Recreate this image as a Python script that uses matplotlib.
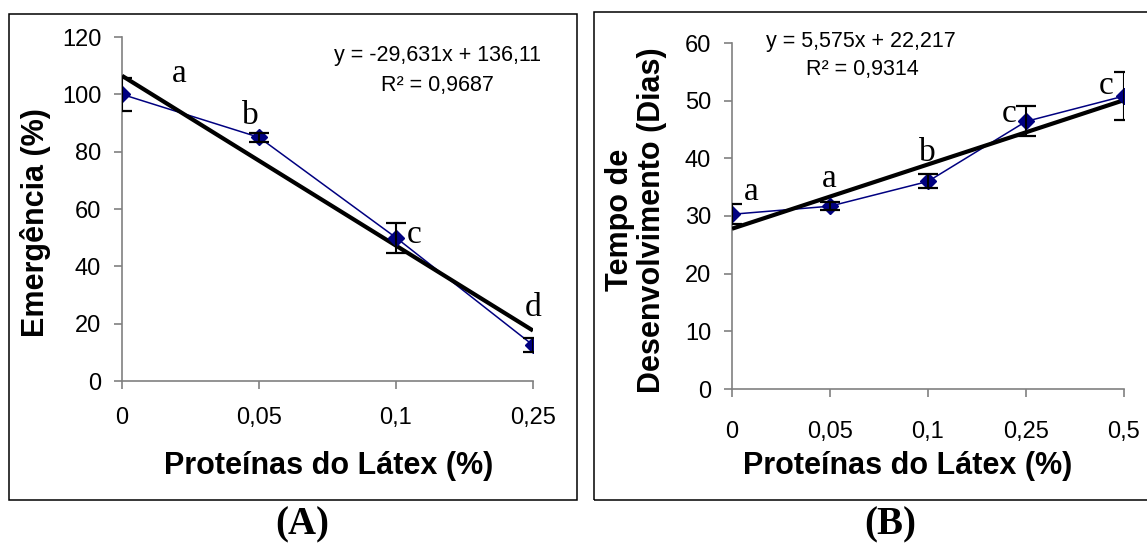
import numpy as np
import matplotlib
matplotlib.use("Agg")
import matplotlib.pyplot as plt
from matplotlib.patches import Rectangle

plt.rcParams["font.family"] = ["Liberation Sans", "DejaVu Sans"]

# ---------- (A) emergence ----------
dose_A = ["0", "0,05", "0,1", "0,25"]
emerg = np.array([100, 85, 50, 12.5])
emerg_err = np.array([5.8, 1.5, 5.2, 2.5])
letters_A = ["a", "b", "c", "d"]
letter_off_A = [(57, 21), (-9, 22), (18, 3), (0, 37)]   # pixels from each point
slope_A, icpt_A, r2_A = -29.631, 136.11, 0.9687

# ---------- (B) development time ----------
dose_B = ["0", "0,05", "0,1", "0,25", "0,5"]
dias = np.array([30.3, 31.7, 36.0, 46.4, 50.8])
dias_err = np.array([1.7, 0.7, 1.2, 2.6, 4.1])
letters_B = ["a", "a", "b", "c", "c"]
letter_off_B = [(19, 23), (-1, 27), (-1, 29), (-17, 8), (-18, 10)]
slope_B, icpt_B, r2_B = 5.575, 22.217, 0.9314

NAVY = "#000080"
GREY = "#808080"
SERIF = ["Liberation Serif", "DejaVu Serif"]

fig = plt.figure(figsize=(11.47, 5.44), dpi=100)
W, H = 1147, 544


def px_axes(x0, x1, y_bot, y_top):
    return fig.add_axes([x0 / W, (H - y_bot) / H, (x1 - x0) / W, (y_bot - y_top) / H])


def panel(ax, labels, mean, err, letters, offs, slope, icpt, ymax, ystep, xpad):
    n = len(labels)
    idx = np.arange(n)
    ax.plot(idx, mean, color=NAVY, lw=1.1, zorder=2)
    # Excel-style linear trend uses x = 1..n
    ax.plot(idx, slope * (idx + 1) + icpt, color="black", lw=3.0, zorder=3,
            solid_capstyle="butt")
    ax.plot(idx, mean, "D", color=NAVY, ms=8.5, zorder=4)
    ax.errorbar(idx, mean, yerr=err, fmt="none", ecolor="black", elinewidth=1.5,
                capsize=7, capthick=1.6, zorder=5)
    for i, (lab, (dx, dy)) in enumerate(zip(letters, offs)):
        ax.annotate(lab, xy=(idx[i], mean[i]), xytext=(dx, dy), textcoords="offset pixels",
                    ha="center", va="center", fontsize=24, family=SERIF, zorder=6)
    ax.set_xlim(0, n - 1)
    ax.set_ylim(0, ymax)
    ax.set_xticks(idx)
    ax.set_xticklabels(labels)
    ax.set_yticks(np.arange(0, ymax + 1, ystep))
    ax.set_yticklabels([str(v) for v in np.arange(0, ymax + 1, ystep)])
    for s in ("top", "right"):
        ax.spines[s].set_visible(False)
    for s in ("left", "bottom"):
        ax.spines[s].set_color(GREY)
        ax.spines[s].set_linewidth(1.2)
    ax.tick_params(axis="both", colors=GREY, labelcolor="black", length=6, width=1.2,
                   labelsize=17)
    ax.tick_params(axis="y", pad=9)
    ax.tick_params(axis="x", pad=xpad)
    ax.set_facecolor("none")


axA = px_axes(122, 533, 381, 37)
panel(axA, dose_A, emerg, emerg_err, letters_A, letter_off_A, slope_A, icpt_A, 120, 20, 13)
axB = px_axes(732, 1124, 389, 43)
panel(axB, dose_B, dias, dias_err, letters_B, letter_off_B, slope_B, icpt_B, 60, 10, 17)

# trend equations
eqA = f"y = {slope_A:.3f}x + {icpt_A:.2f}".replace(".", ",")
eqB = f"y = {slope_B:.3f}x + {icpt_B:.3f}".replace(".", ",")
fig.text(437 / W, 1 - 55 / H, eqA, ha="center", va="center", fontsize=15.5)
fig.text(437 / W, 1 - 85 / H, f"R² = {r2_A:.4f}".replace(".", ","), ha="center", va="center", fontsize=15.5)
fig.text(861 / W, 1 - 41 / H, eqB, ha="center", va="center", fontsize=15.5)
fig.text(862 / W, 1 - 70 / H, f"R² = {r2_B:.4f}".replace(".", ","), ha="center", va="center", fontsize=15.5)

# axis titles
fig.text(36 / W, 1 - 223 / H, "Emergência (%)", rotation=90, ha="center", va="center",
         fontsize=22, fontweight="bold")
fig.text(329 / W, 1 - 466 / H, "Proteínas do Látex (%)", ha="center", va="center",
         fontsize=22, fontweight="bold")
fig.text(636 / W, 1 - 220 / H, "Tempo de\nDesenvolvimento (Dias)", rotation=90, ha="center",
         va="center", fontsize=22, fontweight="bold", linespacing=1.05, multialignment="center")
fig.text(908 / W, 1 - 466 / H, "Proteínas do Látex (%)", ha="center", va="center",
         fontsize=22, fontweight="bold")

# panel frames and captions
for x0, x1, y0 in ((9, 577, 14), (594, 1150, 12)):
    fig.patches.append(Rectangle((x0 / W, (H - 500) / H), (x1 - x0) / W, (500 - y0) / H,
                                 transform=fig.transFigure, fill=False, ec="black", lw=1.1))
fig.text(302 / W, 1 - 525 / H, "(A)", ha="center", va="center", fontsize=28,
         fontweight="bold", family=SERIF)
fig.text(890 / W, 1 - 525 / H, "(B)", ha="center", va="center", fontsize=28,
         fontweight="bold", family=SERIF)

fig.savefig("out.png", dpi=100)
